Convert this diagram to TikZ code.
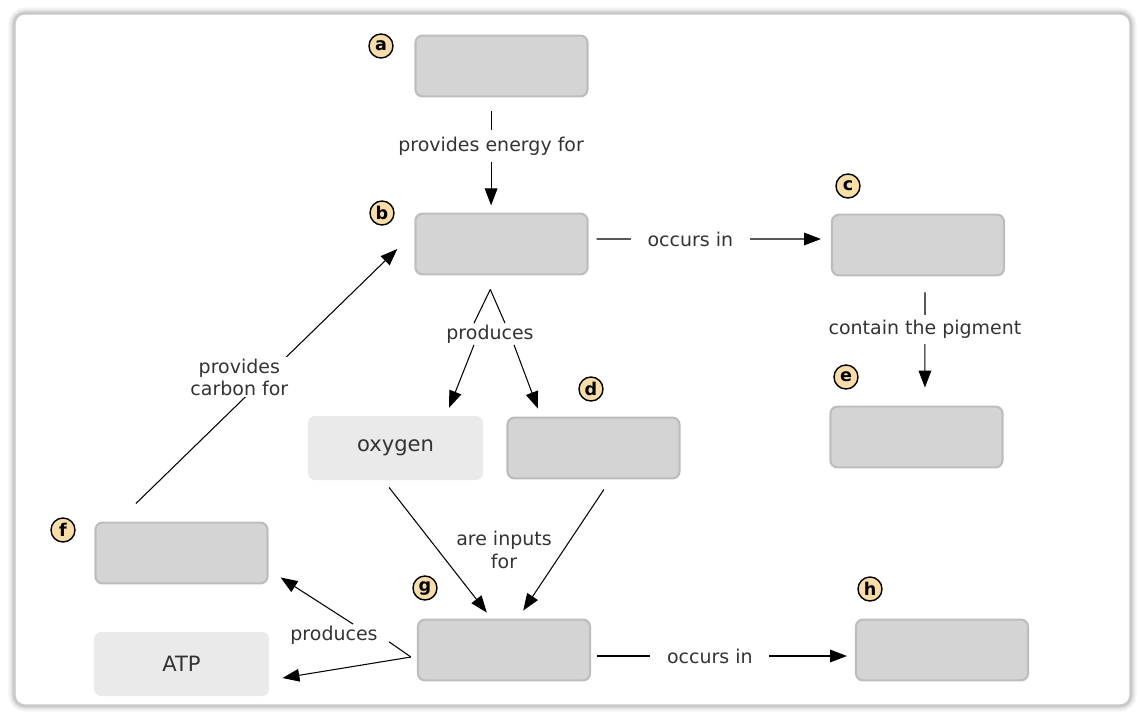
\documentclass[tikz,border=0pt]{standalone}
\usepackage{fontspec}
\setmainfont{DejaVu Sans}
\usetikzlibrary{arrows.meta,positioning,calc}
\definecolor{boxgray}{HTML}{D4D4D4}
\definecolor{boxedge}{HTML}{BDBDBD}
\definecolor{givengray}{HTML}{EAEAEA}
\definecolor{tagfill}{HTML}{F8DDA8}
\definecolor{txt}{HTML}{333333}

\begin{document}
\begin{tikzpicture}[x=0.025cm,y=-0.025cm,
        concept/.style={
                minimum width=4.3cm,
                minimum height=1.52cm,
                rounded corners=5pt,
                fill=boxgray,
                draw=boxedge,
                line width=1.5pt
            },
        given/.style={
                minimum width=4.375cm,
                minimum height=1.6cm,
                rounded corners=5pt,
                fill=givengray,
                text=txt,
                font=\fontsize{15}{17}\selectfont
            },
        tag/.style={
                circle,
                draw=black,
                line width=1pt,
                fill=tagfill,
                inner sep=0pt,
                minimum size=0.6cm,
                font=\bfseries\fontsize{12.5}{13}\selectfont
            },
        link/.style={
                text=txt,
                align=center,
                inner sep=1pt,
                font=\fontsize{13.5}{16}\selectfont
            },
        conn/.style={line width=0.75pt, black},
        arr/.style={conn, -{Triangle[length=12pt,width=9pt]}},
    ]
    \useasboundingbox (0,0) rectangle (1138,713);
    % frame
    \foreach \w/\c in {8/8,6/14,4/24,2/42}
    \draw[line width=\w pt, gray!\c, rounded corners=8pt] (14,13) rectangle (1131,706);
    \fill[white, rounded corners=6pt] (16,15) rectangle (1129,704);

    % concept boxes
    \node[concept] (a) at (501.5,66) {};
    \node[concept] (b) at (501.5,244) {};
    \node[concept] (c) at (918,245) {};
    \node[concept] (d) at (593.5,448) {};
    \node[concept] (e) at (916.5,437) {};
    \node[concept] (f) at (181.5,553) {};
    \node[concept] (g) at (504,650) {};
    \node[concept] (h) at (942,650) {};
    \node[given] (ox) at (395.5,448) {oxygen};
    \node[given] (atp) at (181.5,664) {ATP};

    % letters
    \node[tag] (ta) at (381,46) {a};
    \node[tag] (tb) at (382,213) {b};
    \node[tag] (tc) at (848,186) {c};
    \node[tag] (td) at (591,389) {d};
    \node[tag] (te) at (846,377) {e};
    \node[tag] (tf) at (63,530) {f};
    \node[tag] (tg) at (425,588) {g};
    \node[tag] (th) at (870,589) {h};

    % a -> b
    \draw[arr, shorten <=0.35cm, shorten >=0.18cm] ([xshift=-0.26cm]a.south) -- node[link, fill=white, inner ysep=5pt, pos=0.42] (lab) {provides energy for} ([xshift=-0.26cm]b.north);
    % b -> c
    \draw[arr, shorten <=0.2cm, shorten >=0.25cm] ([yshift=0.125cm]b.east) -- node[link, fill=white, inner xsep=0.42cm, pos=0.42] (lbc) {occurs in} ([yshift=0.15cm]c.west);
    % c -> e
    \draw[arr, shorten <=0.4cm, shorten >=0.45cm] ([xshift=0.175cm]c.south) -- node[link, fill=white, inner ysep=4pt, pos=0.41] (lce) {contain the pigment} ([xshift=0.21cm]e.north);

    % b produces oxygen, d
    \coordinate (bj) at ([xshift=-0.28cm,yshift=-0.35cm]b.south);
    \node[link] (lp) at (490,334) {produces};
    \draw[conn] (bj) -- ([xshift=-0.4cm]lp.north);
    \draw[conn] (bj) -- ([xshift=0.375cm]lp.north);
    \draw[arr] ([xshift=-0.4cm]lp.south) -- ([xshift=1.34cm,yshift=0.2cm]ox.north);
    \draw[arr] ([xshift=0.6cm]lp.south) -- ([xshift=-1.39cm,yshift=0.2cm]d.north);

    % oxygen, d -> g
    \node[link] (li) at (504,550) {are inputs\\for};
    \draw[arr] ([xshift=-0.16cm,yshift=-0.18cm]ox.south) -- ([xshift=-0.43cm,yshift=0.15cm]g.north);
    \draw[arr] ([xshift=0.26cm,yshift=-0.25cm]d.south) -- ([xshift=0.48cm,yshift=0.2cm]g.north);

    % f -> b
    \draw[arr] ([xshift=-1.14cm,yshift=0.45cm]f.north) -- node[link, fill=white, pos=0.48, xshift=-0.55cm, yshift=0.1cm] (lc) {provides\\carbon for} ([xshift=-0.43cm,yshift=-0.125cm]b.west);

    % g produces f, ATP
    \coordinate (gj) at ([xshift=-0.15cm,yshift=-0.175cm]g.west);
    \node[link] (lg) at (334,635) {produces};
    \draw[conn, shorten >=0.3cm] (gj) -- (lg.east);
    \draw[arr] ([xshift=0.48cm]lg.north) -- ([xshift=0.3cm,yshift=0.175cm]f.south east);
    \draw[arr] (gj) -- ([xshift=0.33cm,yshift=-0.35cm]atp.east);

    % g -> h
    \draw[arr, shorten <=0.15cm, shorten >=0.2cm] ([yshift=-0.15cm]g.east) -- node[link, fill=white, inner xsep=0.42cm, pos=0.45] (lgh) {occurs in} ([yshift=-0.15cm]h.west);
\end{tikzpicture}
\end{document}
